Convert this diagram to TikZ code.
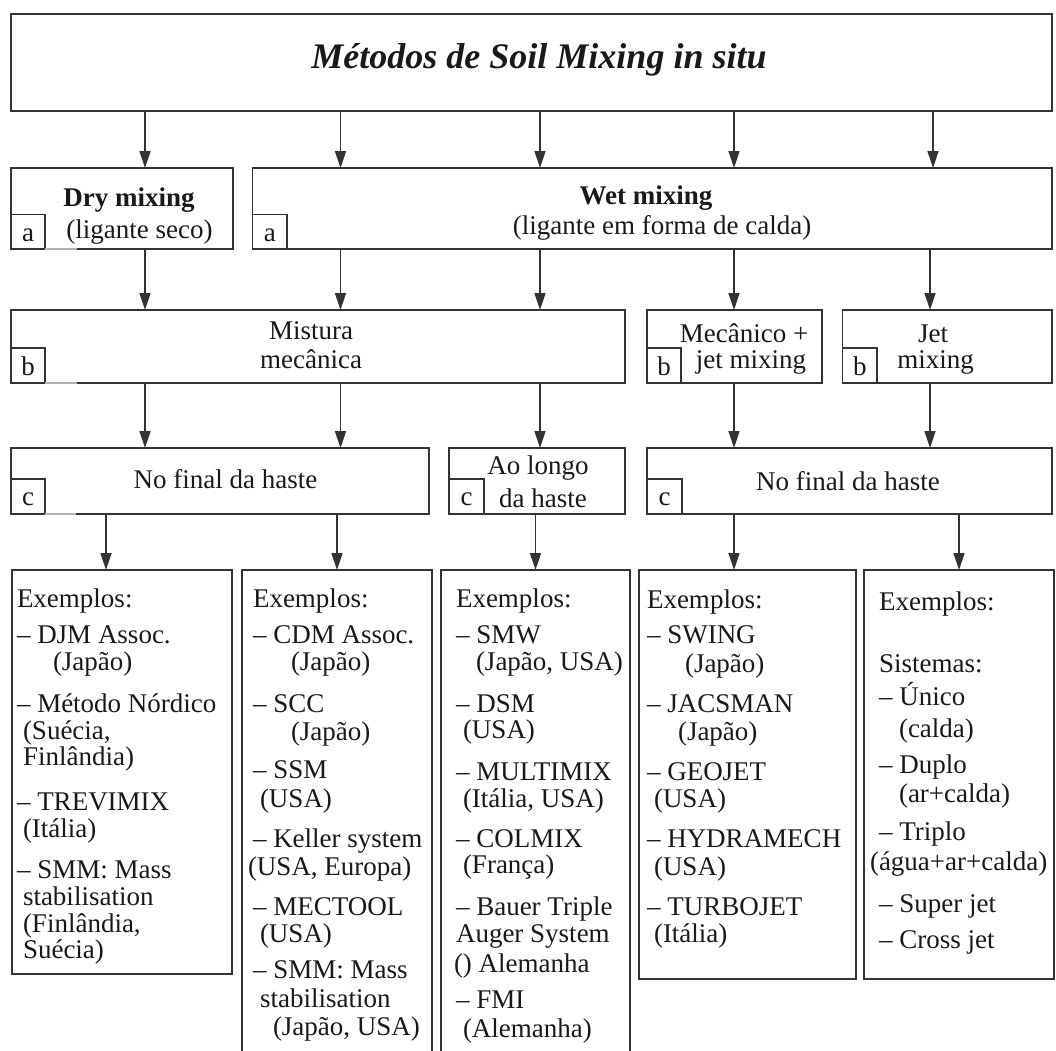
\documentclass[tikz,border=0pt]{standalone}
\usepackage{fontspec}
\setmainfont{Liberation Serif}
\usetikzlibrary{arrows.meta}
\definecolor{lc}{gray}{0.2}
\definecolor{tc}{gray}{0.1}
\newcommand\fsbody{\fontsize{27}{27}\selectfont}
\newcommand\fstitle{\fontsize{36}{36}\selectfont\bfseries\itshape}
\begin{document}
\begin{tikzpicture}[x=1pt,y=-1pt,
  box/.style={draw=lc, line width=1.4pt, inner sep=0pt, outer sep=0pt, anchor=north west},
  txt/.style={anchor=base west, inner sep=0pt, outer sep=0pt, font=\fsbody, text=tc},
  ctxt/.style={anchor=base, inner sep=0pt, outer sep=0pt, font=\fsbody, text=tc},
  arr/.style={draw=lc, line width=1.4pt, -{Triangle[length=17pt,width=11pt]}},
  faint/.style={draw=black!30, line width=1.4pt}]
\useasboundingbox (0,0) rectangle (1056,1050);
\clip (0,0) rectangle (1056,1050);

% ---------- boxes ----------
\node[box, minimum width=1041pt, minimum height=97pt] (title) at (11,14) {};
\node[box, minimum width=222pt, minimum height=81pt] (dry) at (11,168) {};
\node[box, minimum width=799.5pt, minimum height=81pt] (wet) at (252.5,168) {};
\node[box, minimum width=34pt, minimum height=34.5pt] (aDry) at (11,214.5) {};
\node[box, minimum width=34.5pt, minimum height=34.5pt] (aWet) at (252.5,214.5) {};

\node[box, minimum width=614pt, minimum height=73pt] (mis) at (11,310) {};
\node[box, minimum width=175pt, minimum height=73pt] (mec) at (647,310) {};
\node[box, minimum width=209.5pt, minimum height=73pt] (jet) at (842.5,310) {};
\node[box, minimum width=34pt, minimum height=35pt] (bMis) at (11,348) {};
\node[box, minimum width=34pt, minimum height=35pt] (bMec) at (647,348) {};
\node[box, minimum width=34.5pt, minimum height=35pt] (bJet) at (842.5,348) {};

\node[box, minimum width=418pt, minimum height=66pt] (nfl) at (11,448) {};
\node[box, minimum width=176pt, minimum height=66pt] (ao) at (449,448) {};
\node[box, minimum width=405pt, minimum height=66pt] (nfr) at (647,448) {};
\node[box, minimum width=34pt, minimum height=35pt] (cL) at (11,479) {};
\node[box, minimum width=35pt, minimum height=35pt] (cAo) at (449,479) {};
\node[box, minimum width=35pt, minimum height=35pt] (cR) at (647,479) {};

\node[box, minimum width=220pt, minimum height=404pt] (ex1) at (12,570) {};
\node[box, minimum width=190pt, minimum height=520pt] (ex2) at (242,570) {};
\node[box, minimum width=189pt, minimum height=520pt] (ex3) at (441,570) {};
\node[box, minimum width=217pt, minimum height=409pt] (ex4) at (639,570) {};
\node[box, minimum width=190pt, minimum height=409pt] (ex5) at (864,570) {};

% faint bottom segments next to left label boxes
\draw[faint] (aDry.south east) -- ++(32,0);
\draw[faint] (bMis.south east) -- ++(32,0);
\draw[faint] (cL.south east) -- ++(31,0);

% ---------- label letters ----------
\node[ctxt, yshift=8pt] (la1) at (aDry.south) {a};
\node[ctxt, yshift=8pt] (la2) at (aWet.south) {a};
\node[ctxt, yshift=8pt] (lb1) at (bMis.south) {b};
\node[ctxt, yshift=8pt] (lb2) at (bMec.south) {b};
\node[ctxt, yshift=8pt] (lb3) at (bJet.south) {b};
\node[ctxt, yshift=9pt] (lc1) at (cL.south) {c};
\node[ctxt, yshift=9pt] (lc2) at (cAo.south) {c};
\node[ctxt, yshift=9pt] (lc3) at (cR.south) {c};

% ---------- headings ----------
\node[anchor=base, inner sep=0pt, font=\fstitle, text=tc] (ttl) at (539,68) {Métodos de Soil Mixing in situ};
\node[ctxt, font=\fsbody\bfseries] (dry1) at (129,206) {Dry mixing};
\node[ctxt] (dry2) at (139.5,238) {(ligante seco)};
\node[ctxt, font=\fsbody\bfseries] (wet1) at (646,204) {Wet mixing};
\node[ctxt] (wet2) at (662,234) {(ligante em forma de calda)};
\node[ctxt] (mis1) at (311,339) {Mistura};
\node[ctxt] (mis2) at (311,368) {mecânica};
\node[ctxt] (mec1) at (744,342) {Mecânico +};
\node[ctxt] (mec2) at (751,368) {jet mixing};
\node[ctxt] (jet1) at (933,342) {Jet};
\node[ctxt] (jet2) at (935.5,368) {mixing};
\node[ctxt] (nfl1) at (225.5,488) {No final da haste};
\node[ctxt] (ao1) at (538,474) {Ao longo};
\node[ctxt] (ao2) at (543,507) {da haste};
\node[ctxt] (nfr1) at (848,490) {No final da haste};

% ---------- connectors ----------
\coordinate (xa) at (145,0);
\coordinate (xb) at (340.5,0);
\coordinate (xc) at (540,0);
\coordinate (xd) at (734,0);
\coordinate (xe) at (933,0);
\coordinate (xf) at (930,0);
\coordinate (xg) at (106,0);
\coordinate (xh) at (337,0);
\coordinate (xi) at (535.5,0);
\coordinate (xj) at (959,0);

\draw[arr] (title.south -| xa) -- (dry.north -| xa);
\draw[arr] (title.south -| xb) -- (wet.north -| xb);
\draw[arr] (title.south -| xc) -- (wet.north -| xc);
\draw[arr] (title.south -| xd) -- (wet.north -| xd);
\draw[arr] (title.south -| xe) -- (wet.north -| xe);

\draw[arr] (dry.south -| xa) -- (mis.north -| xa);
\draw[arr] (wet.south -| xb) -- (mis.north -| xb);
\draw[arr] (wet.south -| xc) -- (mis.north -| xc);
\draw[arr] (wet.south -| xd) -- (mec.north -| xd);
\draw[arr] (wet.south -| xf) -- (jet.north -| xf);

\draw[arr] (mis.south -| xa) -- (nfl.north -| xa);
\draw[arr] (mis.south -| xb) -- (nfl.north -| xb);
\draw[arr] (mis.south -| xc) -- (ao.north -| xc);
\draw[arr] (mec.south -| xd) -- (nfr.north -| xd);
\draw[arr] (jet.south -| xf) -- (nfr.north -| xf);

\draw[arr] (nfl.south -| xg) -- (ex1.north -| xg);
\draw[arr] (nfl.south -| xh) -- (ex2.north -| xh);
\draw[arr] (ao.south -| xi) -- (ex3.north -| xi);
\draw[arr] (nfr.south -| xd) -- (ex4.north -| xd);
\draw[arr] (nfr.south -| xj) -- (ex5.north -| xj);

% ---------- examples 1 ----------
\node[txt] (e101) at (17,607) {Exemplos:};
\node[txt] (e102) at (17,643) {– DJM Assoc.};
\node[txt] (e103) at (53,670) {(Japão)};
\node[txt] (e104) at (17,712) {– Método Nórdico};
\node[txt] (e105) at (23,739) {(Suécia,};
\node[txt] (e106) at (23,765) {Finlândia)};
\node[txt] (e107) at (17,810) {– TREVIMIX};
\node[txt] (e108) at (23,837) {(Itália)};
\node[txt] (e109) at (17,878) {– SMM: Mass};
\node[txt] (e110) at (23,905) {stabilisation};
\node[txt] (e111) at (23,932) {(Finlândia,};
\node[txt] (e112) at (23,958) {Suécia)};

% ---------- examples 2 ----------
\node[txt] (e201) at (253,607) {Exemplos:};
\node[txt] (e202) at (253,643) {– CDM Assoc.};
\node[txt] (e203) at (291,670) {(Japão)};
\node[txt] (e204) at (253,712) {– SCC};
\node[txt] (e205) at (291,740) {(Japão)};
\node[txt] (e206) at (253,778) {– SSM};
\node[txt] (e207) at (260,807) {(USA)};
\node[txt] (e208) at (253,847) {– Keller system};
\node[txt] (e209) at (248,875) {(USA, Europa)};
\node[txt] (e210) at (253,915) {– MECTOOL};
\node[txt] (e211) at (260,942) {(USA)};
\node[txt] (e212) at (253,978) {– SMM: Mass};
\node[txt] (e213) at (260,1007) {stabilisation};
\node[txt] (e214) at (273,1035) {(Japão, USA)};

% ---------- examples 3 ----------
\node[txt] (e301) at (456,607) {Exemplos:};
\node[txt] (e302) at (456,643) {– SMW};
\node[txt] (e303) at (476,670) {(Japão, USA)};
\node[txt] (e304) at (456,712) {– DSM};
\node[txt] (e305) at (463,738) {(USA)};
\node[txt] (e306) at (456,780) {– MULTIMIX};
\node[txt] (e307) at (463,807) {(Itália, USA)};
\node[txt] (e308) at (456,847) {– COLMIX};
\node[txt] (e309) at (463,873) {(França)};
\node[txt] (e310) at (456,915) {– Bauer Triple};
\node[txt] (e311) at (456,942) {Auger System};
\node[txt] (e312) at (454,972) {() Alemanha};
\node[txt] (e313) at (456,1008) {– FMI};
\node[txt] (e314) at (463,1037) {(Alemanha)};

% ---------- examples 4 ----------
\node[txt] (e401) at (647,608) {Exemplos:};
\node[txt] (e402) at (647,643) {– SWING};
\node[txt] (e403) at (685,672) {(Japão)};
\node[txt] (e404) at (647,712) {– JACSMAN};
\node[txt] (e405) at (678,740) {(Japão)};
\node[txt] (e406) at (647,780) {– GEOJET};
\node[txt] (e407) at (654,807) {(USA)};
\node[txt] (e408) at (647,847) {– HYDRAMECH};
\node[txt] (e409) at (654,875) {(USA)};
\node[txt] (e410) at (647,915) {– TURBOJET};
\node[txt] (e411) at (654,942) {(Itália)};

% ---------- examples 5 ----------
\node[txt] (e501) at (879,610) {Exemplos:};
\node[txt] (e502) at (879,672) {Sistemas:};
\node[txt] (e503) at (879,705) {– Único};
\node[txt] (e504) at (899,737) {(calda)};
\node[txt] (e505) at (879,773) {– Duplo};
\node[txt] (e506) at (899,802) {(ar+calda)};
\node[txt] (e507) at (879,840) {– Triplo};
\node[txt] (e508) at (870,870) {(água+ar+calda)};
\node[txt] (e509) at (879,912) {– Super jet};
\node[txt] (e510) at (879,948) {– Cross jet};
\end{tikzpicture}
\end{document}
